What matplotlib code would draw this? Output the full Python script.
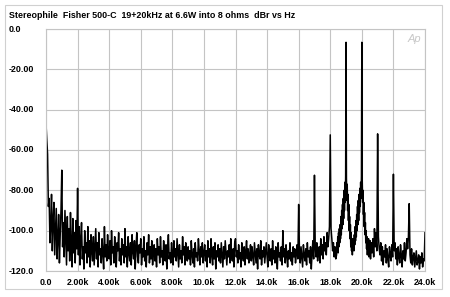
import matplotlib.pyplot as plt, numpy as np
from matplotlib.patches import Rectangle

# SPECTRUM LEVELS (dBr)
# 0 .. 18.35 kHz, every 50 Hz (one row = 1 kHz)
level_low = [
    -46.7, -55, -62, -88, -84, -106, -98, -82, -110, -95, -86, -112, -100, -89, -114, -104, -92, -116, -102, -90,
    -70, -108, -96, -113, -90, -104, -117, -93, -110, -99, -115, -91, -107, -118, -94, -111, -101, -116, -95, -109,
    -79, -112, -98, -117, -104, -96, -114, -108, -119, -100, -111, -106, -116, -98, -113, -105, -118, -102, -110, -115,
    -103, -117, -108, -99, -114, -106, -118, -101, -112, -109, -116, -104, -111, -119, -98, -113, -107, -115, -102, -110,
    -114, -105, -117, -100, -111, -108, -116, -103, -113, -118, -106, -110, -101, -115, -109, -117, -104, -112, -107, -116,
    -99, -113, -108, -118, -103, -111, -115, -106, -117, -102, -110, -114, -105, -119, -108, -101, -113, -116, -107, -111,
    -104, -117, -109, -113, -103, -115, -110, -118, -106, -112, -102, -116, -108, -114, -105, -117, -111, -107, -115, -109,
    -118, -104, -112, -108, -116, -103, -113, -110, -117, -105, -111, -115, -107, -119, -109, -102, -114, -111, -116, -106,
    -112, -117, -105, -113, -109, -115, -104, -111, -118, -107, -114, -110, -116, -103, -112, -108, -117, -106, -113, -115,
    -108, -114, -110, -117, -105, -112, -116, -109, -118, -106, -113, -111, -115, -104, -110, -117, -108, -113, -106, -116,
    -111, -107, -115, -110, -118, -105, -113, -109, -116, -104, -112, -117, -108, -114, -106, -119, -110, -113, -107, -115,
    -109, -116, -106, -112, -118, -108, -114, -105, -111, -117, -110, -113, -107, -116, -104, -112, -115, -109, -118, -106,
    -104, -113, -110, -116, -107, -114, -111, -118, -106, -112, -115, -108, -117, -110, -105, -114, -109, -116, -112, -107,
    -115, -108, -113, -117, -106, -111, -116, -109, -119, -107, -112, -114, -105, -117, -110, -113, -108, -116, -111, -106,
    -113, -118, -107, -112, -115, -109, -117, -105, -114, -110, -116, -108, -112, -119, -106, -113, -111, -115, -108, -117,
    -100, -113, -109, -116, -107, -112, -118, -110, -114, -106, -115, -111, -117, -108, -113, -109, -116, -112, -107, -114,
    -87, -111, -116, -108, -113, -118, -107, -112, -115, -109, -117, -106, -113, -110, -116, -108, -119, -111, -105, -114,
    -72.5, -109, -113, -106, -115, -110, -108, -116, -104, -112, -107, -114, -103, -110, -106, -112, -101, -108, -104, -98,
    -52.5, -99, -104, -110, -106, -113, -108, -114,
]
# 18.4 .. 20.575 kHz, every 25 Hz (the two tones and their skirts)
level_skirt = [
    -112, -106, -110, -103, -111, -101, -108, -99, -106, -97, -104, -93, -102, -90, -99, -87,
    -97, -84, -94, -80, -90, -76, -86, -73, -6.6, -74, -85, -77, -90, -82, -95, -87,
    -100, -93, -104, -97, -108, -101, -110, -104, -112, -106, -109, -104, -110, -102, -107, -98,
    -105, -95, -103, -92, -100, -88, -97, -85, -95, -82, -91, -79, -88, -76, -84, -73,
    -6.6, -75, -86, -80, -92, -86, -98, -91, -102, -96, -106, -100, -109, -103, -112, -105,
    -110, -104, -113, -107, -111, -105, -114, -108,
]
# 20.6 .. 24.0 kHz, every 50 Hz
level_high = [
    -106, -111, -104, -113, -99, -108, -101, -110,
    -52,
    -103, -109, -112, -106, -115, -108, -117, -110, -113, -107, -116, -109, -114, -118, -108, -112, -115, -107, -113,
    -72,
    -110, -106, -114, -109, -117, -108, -113, -116, -107, -112, -118, -110, -114, -106, -115, -111, -104, -109, -103,
    -86.6,
    -112, -116, -109, -117, -113, -111, -118, -114, -110, -117, -115, -112, -119, -113, -116, -111, -118, -114, -115, -101,
]

freq_low = np.arange(0, 18400, 50)
freq_skirt = np.arange(18400, 20600, 25)
freq_high = np.arange(20600, 24001, 50)

y_ticks = [0, -20, -40, -60, -80, -100, -120]
y_labels = ["0.0", "-20.00", "-40.00", "-60.00", "-80.00", "-100.0", "-120.0"]
x_ticks = [0, 2000, 4000, 6000, 8000, 10000, 12000, 14000, 16000, 18000, 20000, 22000, 24000]
x_labels = ["0.0", "2.00k", "4.00k", "6.00k", "8.00k", "10.0k", "12.0k",
            "14.0k", "16.0k", "18.0k", "20.0k", "22.0k", "24.0k"]
title = "Stereophile  Fisher 500-C  19+20kHz at 6.6W into 8 ohms  dBr vs Hz"


def main():
    freq = np.concatenate([freq_low, freq_skirt, freq_high])
    level = np.concatenate([level_low, level_skirt, level_high])

    plt.rcParams['font.family'] = ['Liberation Sans', 'DejaVu Sans']
    fig = plt.figure(figsize=(4.5, 2.97), dpi=100)
    W, H = 450, 297
    ax = fig.add_axes([46 / W, 1 - 271 / H, 379 / W, 242 / H])

    ax.plot(freq, level, color="black", lw=1.1)
    ax.set_xlim(0, 24000)
    ax.set_ylim(-120, 0)
    ax.set_xticks(x_ticks)
    ax.set_yticks(y_ticks)
    ax.grid(True, color="#c4c4c4", lw=0.8)
    ax.set_axisbelow(True)
    ax.tick_params(length=0, labelleft=False, labelbottom=False)
    for s in ax.spines.values():
        s.set_color("#c4c4c4")
        s.set_linewidth(0.8)

    font1 = {'size': 6.4, 'weight': 'bold', 'color': 'black'}
    # y labels sit flush left on the figure, x labels centred below the grid
    for v, lab in zip(y_ticks, y_labels):
        yp = 1 - (29 + (-v) * 242 / 120) / H
        fig.text(9 / W, yp, lab, ha="left", va="center", **font1)
    for v, lab in zip(x_ticks, x_labels):
        ax.text(v, -125.5, lab, ha="center", va="center", **font1)
    fig.text(9 / W, 1 - 16 / H, title, ha="left", va="center", **font1)
    ax.text(23300, -5, "Ap", ha="center", va="center", fontsize=8,
            style="italic", color="#c8c8c8")

    fig.patches.append(Rectangle((5 / W, 1 - 289 / H), 437 / W, 284 / H,
                                 transform=fig.transFigure, fill=False,
                                 edgecolor="#d0d0d0", lw=0.8))
    fig.savefig("out.png", dpi=100)


if __name__ == "__main__":
    main()
